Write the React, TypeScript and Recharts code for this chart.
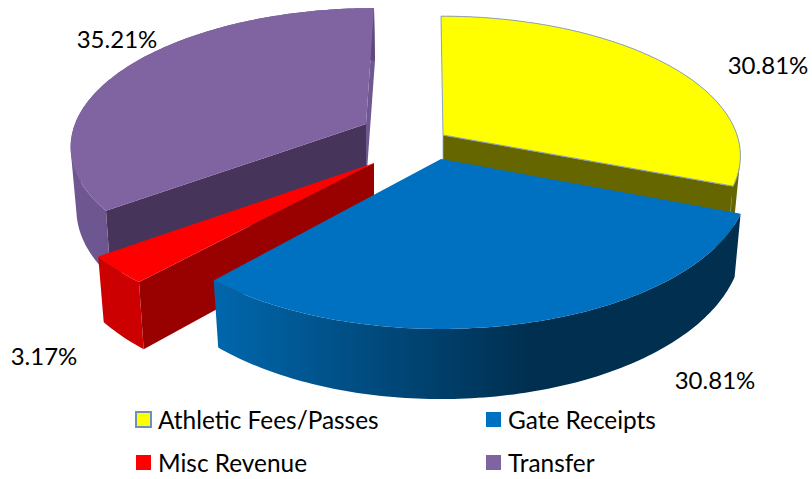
import React from 'react';
import { PieChart, Pie, Legend } from 'recharts';

const categories = ['Athletic Fees/Passes', 'Gate Receipts', 'Misc Revenue', 'Transfer'];
const shares = [30.81, 30.81, 3.17, 35.21];
const shareLabels = ['30.81%', '30.81%', '3.17%', '35.21%'];
const colors = ['#ffff00', '#0070c0', '#ff0000', '#8064a2'];

// back slices first: going counter-clockwise from the yellow slice paints blue last
const drawOrder = [0, 3, 2, 1];
const tableRows = drawOrder.map((i) => ({ name: categories[i], value: shares[i], index: i }));

const CX = 406;
const CY = 150;
const RADIUS = 294;
const CAMERA = 6.95; // perspective distance, in radii
const TILT = 0.4624;
const DEPTH = 60;

// look of each exploded slice, same order as categories
const sliceLooks = [
  { dx: 37, dy: -15, sx: 1, sy: 1, lean: -2, lowLean: 0, stroke: '#8ea3bf', rim: ['#666600', '#666600'], rimStop: 1, startWall: null, endWall: '#666600' },
  { dx: 35, dy: 9, sx: 1.035, sy: 1.07, lean: 0, lowLean: 0, stroke: 'none', rim: ['#0067ad', '#002f50'], rimStop: 0.6, startWall: null, endWall: null },
  { dx: -32, dy: 13, sx: 1.07, sy: 1.05, lean: 0, lowLean: 0, stroke: 'none', rim: ['#cc0000', '#cc0000'], rimStop: 1, startWall: '#990000', endWall: null },
  { dx: -40, dy: -26, sx: 0.99, sy: 0.975, lean: 8, lowLean: 9, stroke: 'none', rim: ['#6f5892', '#5f4a7e'], rimStop: 1, startWall: '#46345a', endWall: '#6f5790' },
];
const labelSpots = [
  { x: 768, y: 64 },
  { x: 715, y: 379 },
  { x: 44, y: 355 },
  { x: 117, y: 38 },
];

const project = (look: any, deg: number, lower: boolean) => {
  const a = (deg * Math.PI) / 180;
  const X = Math.sin(a);
  const Y = Math.cos(a);
  const near = CAMERA / (CAMERA + Y);
  const spread = RADIUS * near * X * look.sx;
  const x = lower ? spread * 0.98 + look.lowLean * Y : spread + look.lean * Y;
  const y = -RADIUS * TILT * near * Y * look.sy + (lower ? DEPTH * near : 0);
  return [CX + look.dx + x, CY + look.dy + y];
};

const apex = (look: any, lower: boolean) => [
  CX + look.dx,
  CY + look.dy + (lower ? DEPTH : 0),
];

const toPath = (pts: number[][]) =>
  'M' + pts.map((p) => p[0].toFixed(1) + ' ' + p[1].toFixed(1)).join('L') + 'Z';

const Slice3D = (props: any) => {
  const i = props.payload?.index ?? props.index;
  const look = sliceLooks[i];
  const from = 90 - props.endAngle;
  const to = 90 - props.startAngle;
  const top: number[][] = [];
  const bottom: number[][] = [];
  for (let d = from; d < to; d += 1) {
    top.push(project(look, d, false));
    bottom.push(project(look, d, true));
  }
  top.push(project(look, to, false));
  bottom.push(project(look, to, true));
  const wall = (deg: number) =>
    toPath([apex(look, false), project(look, deg, false), project(look, deg, true), apex(look, true)]);
  // the rim is swept quad by quad so its silhouette stays filled where the arcs cross
  let rimPath = '';
  for (let k = 0; k + 1 < top.length; k += 1) {
    const quad = [top[k], top[k + 1], bottom[k + 1], bottom[k]];
    const clockwise = (quad[1][0] - quad[0][0]) * (quad[3][1] - quad[0][1]) - (quad[1][1] - quad[0][1]) * (quad[3][0] - quad[0][0]) > 0;
    rimPath += toPath(clockwise ? quad : quad.slice().reverse());
  }
  const gradId = 'rim' + i;
  return (
    <g>
      <defs>
        <linearGradient id={gradId} x1="0" y1="0" x2="1" y2="0">
          <stop offset="0" stopColor={look.rim[0]} />
          <stop offset={look.rimStop} stopColor={look.rim[1]} />
        </linearGradient>
      </defs>
      {look.endWall && <path d={wall(to)} fill={look.endWall} stroke={look.stroke} strokeWidth={0.8} />}
      {look.startWall && <path d={wall(from)} fill={look.startWall} stroke={look.stroke} strokeWidth={0.8} />}
      <path d={rimPath} fill={`url(#${gradId})`} />
      <path d={toPath([apex(look, false), ...top])} fill={colors[i]} stroke={look.stroke} strokeWidth={1} />
    </g>
  );
};

const renderLabel = (props: any) => {
  const i = props.payload?.index ?? props.index;
  return (
    <text x={labelSpots[i].x} y={labelSpots[i].y} textAnchor="middle" dominantBaseline="central" fontSize={24} fontFamily="Lato" fill="#000">
      {shareLabels[i]}
    </text>
  );
};

const renderLegend = () => (
  <div style={{ display: 'grid', gridTemplateColumns: '350px 300px', gridAutoRows: '43px', fontFamily: 'Lato', fontSize: 24.4, color: '#000' }}>
    {categories.map((name, i) => (
      <div key={name} style={{ display: 'flex', alignItems: 'center' }}>
        <span
          style={
            i === 0
              ? { width: 17, height: 17, boxSizing: 'border-box', margin: '0 6px 0 -1px', background: colors[i], border: '2px solid #6f8fc0' }
              : { width: 15, height: 15, marginRight: 7, background: colors[i] }
          }
        />
        {name}
      </div>
    ))}
  </div>
);

export default function App() {
  const firstShare = shares[0] / shares.reduce((a, b) => a + b, 0);
  const startAngle = 90 - 360 * firstShare;
  return (
    <div style={{ position: 'absolute', left: 0, top: 0, width: 812, height: 479, background: '#fff' }}>
      <PieChart width={812} height={479} margin={{ top: 0, right: 0, bottom: 0, left: 0 }}>
        <Pie
          data={tableRows}
          dataKey="value"
          nameKey="name"
          cx={CX}
          cy={CY}
          outerRadius={RADIUS}
          startAngle={startAngle}
          endAngle={startAngle + 360}
          shape={Slice3D}
          inactiveShape={Slice3D}
          label={renderLabel}
          labelLine={false}
          stroke="none"
          isAnimationActive={false}
        />
        <Legend content={renderLegend} wrapperStyle={{ left: 136, top: 398, width: 660, bottom: 'auto' }} />
      </PieChart>
    </div>
  );
}
